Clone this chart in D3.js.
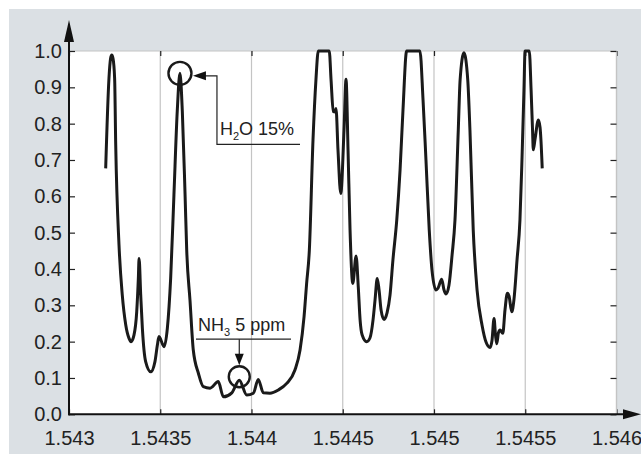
<!DOCTYPE html>
<html>
<head>
<meta charset="utf-8">
<script src="https://cdn.jsdelivr.net/npm/d3@7"></script>
<style>
  html, body { margin: 0; padding: 0; background: #ffffff; }
  svg { display: block; }
  text { font-family: "Liberation Sans", Arial, Helvetica, sans-serif; fill: #222; }
</style>
</head>
<body>
<svg id="chart" width="641" height="454"></svg>
<script>
// ---- data ----
const wavelength = [
  1.543201, 1.543219, 1.543228, 1.543234, 1.543241, 1.543250, 1.543256, 1.543274, 1.543292, 1.543311,
  1.543329, 1.543340, 1.543356, 1.543371, 1.543380, 1.543384, 1.543393, 1.543402, 1.543420, 1.543448,
  1.543471, 1.543484, 1.543493, 1.543521, 1.543539, 1.543557, 1.543575, 1.543593, 1.543608, 1.543621,
  1.543636, 1.543645, 1.543663, 1.543681, 1.543709, 1.543736, 1.543773, 1.543818, 1.543846, 1.543892,
  1.543933, 1.543974, 1.544010, 1.544037, 1.544065, 1.544101, 1.544147, 1.544193, 1.544238, 1.544266,
  1.544288, 1.544302, 1.544317, 1.544337, 1.544353, 1.544366, 1.544426, 1.544436, 1.544448, 1.544458,
  1.544463, 1.544474, 1.544489, 1.544507, 1.544518, 1.544529, 1.544540, 1.544555, 1.544573, 1.544585,
  1.544595, 1.544606, 1.544631, 1.544649, 1.544666, 1.544677, 1.544689, 1.544699, 1.544710, 1.544726,
  1.544743, 1.544759, 1.544775, 1.544796, 1.544814, 1.544830, 1.544850, 1.544923, 1.544940, 1.544956,
  1.544974, 1.544989, 1.545011, 1.545022, 1.545042, 1.545055, 1.545066, 1.545082, 1.545099, 1.545115,
  1.545133, 1.545143, 1.545164, 1.545185, 1.545197, 1.545215, 1.545236, 1.545263, 1.545285, 1.545307,
  1.545318, 1.545329, 1.545337, 1.545344, 1.545353, 1.545362, 1.545377, 1.545389, 1.545402, 1.545411,
  1.545426, 1.545438, 1.545455, 1.545471, 1.545482, 1.545493, 1.545499, 1.545522, 1.545532, 1.545540,
  1.545544, 1.545553, 1.545572, 1.545581, 1.545586, 1.545593
];
const absorbance = [
  0.677, 0.925, 0.980, 0.989, 0.980, 0.925, 0.741, 0.466, 0.328, 0.246,
  0.209, 0.200, 0.218, 0.282, 0.374, 0.429, 0.328, 0.237, 0.145, 0.117,
  0.145, 0.190, 0.214, 0.186, 0.237, 0.374, 0.604, 0.833, 0.939, 0.833,
  0.604, 0.452, 0.314, 0.177, 0.113, 0.076, 0.072, 0.090, 0.048, 0.059,
  0.094, 0.053, 0.058, 0.096, 0.059, 0.058, 0.067, 0.085, 0.122, 0.177,
  0.269, 0.360, 0.452, 0.755, 0.920, 1.000, 1.000, 0.920, 0.833, 0.832,
  0.842, 0.727, 0.608, 0.783, 0.922, 0.727, 0.507, 0.360, 0.436, 0.351,
  0.260, 0.219, 0.200, 0.210, 0.260, 0.315, 0.374, 0.342, 0.287, 0.261,
  0.280, 0.328, 0.425, 0.535, 0.672, 0.837, 1.000, 1.000, 0.865, 0.700,
  0.507, 0.397, 0.342, 0.347, 0.372, 0.342, 0.331, 0.355, 0.438, 0.535,
  0.782, 0.920, 0.995, 0.920, 0.782, 0.507, 0.342, 0.246, 0.199, 0.184,
  0.204, 0.264, 0.218, 0.194, 0.224, 0.232, 0.223, 0.287, 0.333, 0.326,
  0.282, 0.315, 0.425, 0.535, 0.700, 0.893, 1.000, 1.000, 0.893, 0.782,
  0.728, 0.755, 0.810, 0.790, 0.755, 0.677
];
const xTicks = [1.543, 1.5435, 1.544, 1.5445, 1.545, 1.5455, 1.546];
const xTickLabels = ["1.543", "1.5435", "1.544", "1.5445", "1.545", "1.5455", "1.546"];
const yTicks = [0.0, 0.1, 0.2, 0.3, 0.4, 0.5, 0.6, 0.7, 0.8, 0.9, 1.0];
const yTickLabels = ["0.0", "0.1", "0.2", "0.3", "0.4", "0.5", "0.6", "0.7", "0.8", "0.9", "1.0"];
// annotations: [x, y] of marked peaks
const h2oMark = { x: 1.543608, y: 0.9385, main: "H", sub: "2", rest: "O 15%" };
const nh3Mark = { x: 1.543933, y: 0.1035, main: "NH", sub: "3", rest: " 5 ppm" };

// ---- drawing ----
const svg = d3.select("#chart");
const L = 69, R = 616.5, T = 51, B = 414.3;
const x = d3.scaleLinear().domain([1.543, 1.546]).range([L, R]);
const y = d3.scaleLinear().domain([0, 1]).range([B, T]);

// background
svg.append("rect").attr("x", 9).attr("y", 9).attr("width", 632).attr("height", 445).attr("fill", "#dbe0e4");
svg.append("rect").attr("x", L).attr("y", T).attr("width", R - L).attr("height", B - T).attr("fill", "#ffffff");

// gridlines (vertical)
svg.append("g").selectAll("line").data(xTicks.slice(1)).join("line")
  .attr("x1", d => x(d)).attr("x2", d => x(d)).attr("y1", T).attr("y2", B)
  .attr("stroke", "#c4c4c4").attr("stroke-width", 1.2);
// top border
svg.append("line").attr("x1", L).attr("x2", R).attr("y1", T).attr("y2", T)
  .attr("stroke", "#c4c4c4").attr("stroke-width", 1.2);

// bottom axis ticks (inward) via d3 axis
const xAxis = d3.axisBottom(x).tickValues(xTicks).tickSize(-5).tickFormat((d, i) => xTickLabels[i]);
const gx = svg.append("g").attr("transform", `translate(0,${B})`).call(xAxis);
gx.select(".domain").remove();
gx.selectAll(".tick line").attr("stroke", "#222").attr("stroke-width", 1.2);
gx.selectAll(".tick text").attr("y", 24).attr("dy", "0.35em").style("font-size", "20px")
  .style("font-family", '"Liberation Sans", Arial, sans-serif').attr("fill", "#222");

// top ticks
const xTop = d3.axisTop(x).tickValues(xTicks).tickSize(-5).tickFormat("");
const gxt = svg.append("g").attr("transform", `translate(0,${T})`).call(xTop);
gxt.select(".domain").remove();
gxt.selectAll(".tick line").attr("stroke", "#222").attr("stroke-width", 1.2);

// left axis
const yAxis = d3.axisLeft(y).tickValues(yTicks).tickSize(-6).tickFormat((d, i) => yTickLabels[i]);
const gy = svg.append("g").attr("transform", `translate(${L},0)`).call(yAxis);
gy.select(".domain").remove();
gy.selectAll(".tick line").attr("stroke", "#222").attr("stroke-width", 1.2);
gy.selectAll(".tick text").attr("x", -7).style("font-size", "20px")
  .style("font-family", '"Liberation Sans", Arial, sans-serif').attr("fill", "#222");

// right ticks
const yRight = d3.axisRight(y).tickValues(yTicks).tickSize(-6).tickFormat("");
const gyr = svg.append("g").attr("transform", `translate(${R},0)`).call(yRight);
gyr.select(".domain").attr("stroke", "#c4c4c4").attr("stroke-width", 1.2).attr("d", `M0,${B}V${T}`);
gyr.selectAll(".tick line").attr("stroke", "#222").attr("stroke-width", 1.2);

// axis lines with arrows
svg.append("line").attr("x1", L).attr("x2", L).attr("y1", B + 1).attr("y2", 40)
  .attr("stroke", "#111").attr("stroke-width", 2);
svg.append("path").attr("d", `M${L},20 L${L - 5},42 L${L + 5},42 Z`).attr("fill", "#111");
svg.append("line").attr("x1", L - 1).attr("x2", 624).attr("y1", B).attr("y2", B)
  .attr("stroke", "#111").attr("stroke-width", 2);
svg.append("path").attr("d", `M641,${B} L623,${B - 5} L623,${B + 5} Z`).attr("fill", "#111");

// spectrum line
const pts = wavelength.map((w, i) => [w, absorbance[i]]);
const line = d3.line().x(d => x(d[0])).y(d => y(d[1])).curve(d3.curveMonotoneX);
svg.append("path").datum(pts).attr("d", line).attr("fill", "none")
  .attr("stroke", "#1a1a1a").attr("stroke-width", 3).attr("stroke-linejoin", "round");

// annotation: H2O
const hx = x(h2oMark.x), hy = y(h2oMark.y);
svg.append("circle").attr("cx", hx).attr("cy", hy).attr("r", 11.5)
  .attr("fill", "none").attr("stroke", "#1a1a1a").attr("stroke-width", 2.4);
svg.append("path").attr("d", `M${hx + 25},${hy + 2.5} H${hx + 37} V${hy + 71} H300`)
  .attr("fill", "none").attr("stroke", "#222").attr("stroke-width", 1.2);
svg.append("path").attr("d", `M${hx + 13},${hy + 2.5} L${hx + 26},${hy - 2} L${hx + 26},${hy + 7} Z`).attr("fill", "#111");
const ht = svg.append("text").attr("x", hx + 40).attr("y", hy + 62).style("font-size", "18px");
ht.append("tspan").text(h2oMark.main);
ht.append("tspan").attr("dy", 5).style("font-size", "11px").text(h2oMark.sub);
ht.append("tspan").attr("dy", -5).text(h2oMark.rest);

// annotation: NH3
const nx = x(nh3Mark.x), ny = y(nh3Mark.y);
svg.append("circle").attr("cx", nx).attr("cy", ny).attr("r", 10.5)
  .attr("fill", "none").attr("stroke", "#1a1a1a").attr("stroke-width", 2.4);
svg.append("line").attr("x1", 196).attr("x2", 291).attr("y1", ny - 37.5).attr("y2", ny - 37.5)
  .attr("stroke", "#222").attr("stroke-width", 1.2);
svg.append("line").attr("x1", nx).attr("x2", nx).attr("y1", ny - 37.5).attr("y2", ny - 20)
  .attr("stroke", "#222").attr("stroke-width", 1.2);
svg.append("path").attr("d", `M${nx},${ny - 11.5} L${nx - 4.5},${ny - 23} L${nx + 4.5},${ny - 23} Z`).attr("fill", "#111");
const nt = svg.append("text").attr("x", 198).attr("y", ny - 46).style("font-size", "18px");
nt.append("tspan").text(nh3Mark.main);
nt.append("tspan").attr("dy", 5).style("font-size", "11px").text(nh3Mark.sub);
nt.append("tspan").attr("dy", -5).text(nh3Mark.rest);
</script>
</body>
</html>
